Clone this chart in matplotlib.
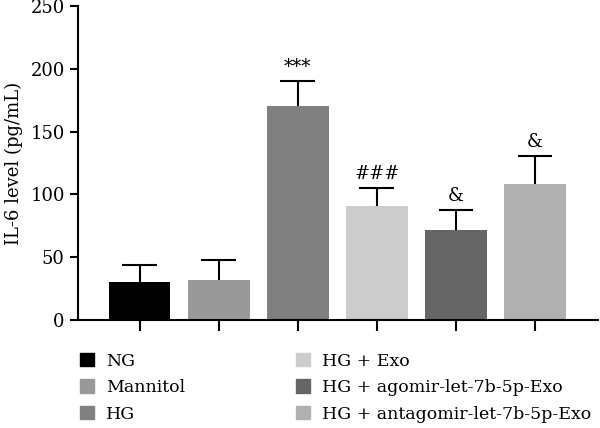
import matplotlib
matplotlib.use("Agg")
from matplotlib import pyplot as plt
from matplotlib.patches import Patch

groups = ["NG", "Mannitol", "HG", "HG + Exo", "HG + agomir-let-7b-5p-Exo", "HG + antagomir-let-7b-5p-Exo"]
means = [30, 32, 170.5, 91, 72, 108.5]
errs = [14, 15.5, 20, 14, 16, 22]
marks = ["", "", "***", "###", "&", "&"]
colors = ["#000000", "#999999", "#808080", "#cccccc", "#666666", "#b0b0b0"]

plt.rcParams["font.family"] = ["DejaVu Serif"]
plt.rcParams["font.size"] = 13

fig = plt.figure(figsize=(6, 4.28), dpi=100)
ax = fig.add_axes([0.13, 0.252, 0.867, 0.734])

x = list(range(len(groups)))
ax.bar(x, means, width=0.78, color=colors, zorder=2)

# one-sided (upper) error bars
tops = [m + e for m, e in zip(means, errs)]
cap = 0.22
ax.vlines(x, means, tops, color="black", linewidth=1.5, zorder=3)
ax.hlines(tops, [xi - cap for xi in x], [xi + cap for xi in x], color="black", linewidth=1.5, zorder=3)

for xi, t, mark in zip(x, tops, marks):
    if mark:
        ax.text(xi, t + 4, mark, ha="center", va="bottom", fontsize=13)

ax.set_xlim(-0.78, 5.8)
ax.set_ylim(0, 250)
ax.set_yticks([0, 50, 100, 150, 200, 250])
ax.set_xticks(x)
ax.set_xticklabels([])
ax.set_ylabel("IL-6 level (pg/mL)", labelpad=5)
ax.spines["top"].set_visible(False)
ax.spines["right"].set_visible(False)
ax.spines["left"].set_linewidth(1.5)
ax.spines["bottom"].set_linewidth(1.5)
ax.tick_params(axis="y", width=1.5, length=6)
ax.tick_params(axis="x", width=1.5, length=8)

handles = [Patch(color=c, label=g) for c, g in zip(colors, groups)]
fig.legend(handles=handles, ncol=2, loc="upper left", bbox_to_anchor=(0.133, 0.176),
           frameon=False, handlelength=0.82, handleheight=0.82, handletextpad=0.7,
           columnspacing=6.35, labelspacing=0.55, fontsize=12.5, borderpad=0, borderaxespad=0)

fig.savefig("out.png", dpi=100)
